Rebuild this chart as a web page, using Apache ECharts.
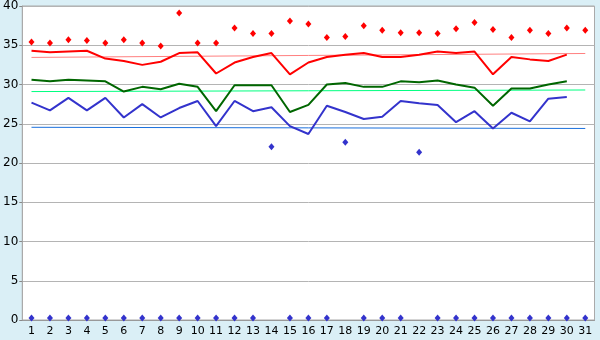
<!DOCTYPE html>
<html>
<head>
<meta charset="utf-8">
<script src="https://cdn.jsdelivr.net/npm/echarts@6/dist/echarts.min.js"></script>
<style>
  html, body { margin: 0; padding: 0; background: #daeff6; }
  #chart { width: 600px; height: 340px; }
</style>
</head>
<body>
<div id="chart"></div>
<script>
// 日期（x轴类目）
const days = ['1','2','3','4','5','6','7','8','9','10','11','12','13','14','15','16','17','18','19','20','21','22','23','24','25','26','27','28','29','30','31'];

// 最高值散点（红色菱形）
const maxPoints = [35.4, 35.3, 35.7, 35.6, 35.3, 35.7, 35.3, 34.9, 39.1, 35.3, 35.3, 37.2, 36.5, 36.5, 38.1, 37.7, 36.0, 36.1, 37.5, 36.9, 36.6, 36.6, 36.5, 37.1, 37.9, 37.0, 36.0, 36.9, 36.5, 37.2, 36.9];
// 红色粗线
const highLine = [34.3, 34.1, 34.2, 34.3, 33.3, 33.0, 32.5, 32.9, 34.0, 34.1, 31.4, 32.8, 33.5, 34.0, 31.3, 32.8, 33.5, 33.8, 34.0, 33.5, 33.5, 33.8, 34.2, 34.0, 34.2, 31.3, 33.5, 33.2, 33.0, 33.8, null];
// 粉色细线（只有首尾两个值）
const highNormal = [33.45, null, null, null, null, null, null, null, null, null, null, null, null, null, null, null, null, null, null, null, null, null, null, null, null, null, null, null, null, null, 33.95];
// 深绿色粗线
const meanLine = [30.6, 30.4, 30.6, 30.5, 30.4, 29.1, 29.7, 29.4, 30.1, 29.7, 26.6, 29.9, 29.9, 29.9, 26.5, 27.4, 30.0, 30.2, 29.7, 29.7, 30.4, 30.3, 30.5, 30.0, 29.6, 27.3, 29.5, 29.5, 30.0, 30.4, null];
// 亮绿色细线
const meanNormal = [29.1, null, null, null, null, null, null, null, null, null, null, null, null, null, null, null, null, null, null, null, null, null, null, null, null, null, null, null, null, null, 29.3];
// 蓝色粗线
const lowLine = [27.7, 26.7, 28.3, 26.7, 28.3, 25.8, 27.5, 25.8, 27.0, 27.9, 24.7, 27.9, 26.6, 27.1, 24.7, 23.7, 27.3, 26.5, 25.6, 25.9, 27.9, 27.6, 27.4, 25.2, 26.6, 24.4, 26.4, 25.3, 28.2, 28.4, null];
// 蓝色细线
const lowNormal = [24.55, null, null, null, null, null, null, null, null, null, null, null, null, null, null, null, null, null, null, null, null, null, null, null, null, null, null, null, null, null, 24.4];
// 最低值散点（蓝色菱形）
const minPoints = [0, 0, 0, 0, 0, 0, 0, 0, 0, 0, 0, 0, 0, 21.8, 0, 0, 0, 22.4, 0, 0, 0, 21.1, 0, 0, 0, 0, 0, 0, 0, 0, 0];

const yTicks = { min: 0, max: 40, interval: 5 };

function thinLine(data, color) {
    return {
        type: 'line',
        data: data,
        connectNulls: true,
        showSymbol: false,
        silent: true,
        lineStyle: { color: color, width: 1 },
        z: 2
    };
}

function thickLine(data, color) {
    return {
        type: 'line',
        data: data,
        showSymbol: false,
        silent: true,
        lineStyle: { color: color, width: 2 },
        z: 3
    };
}

var myChart = echarts.init(document.getElementById('chart'));
var option = {
    animation: false,
    backgroundColor: '#daeff6',
    grid: {
        left: 20, right: 5.5, top: 5.5, bottom: 20,
        show: true,
        backgroundColor: '#ffffff',
        borderColor: '#aaaaaa',
        borderWidth: 1
    },
    xAxis: {
        type: 'category',
        data: days,
        boundaryGap: true,
        axisLine: { lineStyle: { color: '#999999', width: 1 } },
        axisTick: { alignWithLabel: true, length: 5, lineStyle: { color: '#000000' } },
        axisLabel: { color: '#000000', fontFamily: 'DejaVu Sans', fontSize: 11, margin: 6, interval: 0 },
        splitLine: { show: false }
    },
    yAxis: {
        type: 'value',
        min: yTicks.min,
        max: yTicks.max,
        interval: yTicks.interval,
        axisLine: { show: true, lineStyle: { color: '#aaaaaa' } },
        axisTick: { show: true, length: 3, lineStyle: { color: '#888888' } },
        axisLabel: { color: '#000000', fontFamily: 'DejaVu Sans', fontSize: 12, margin: 4 },
        splitLine: { lineStyle: { color: '#b4b4b4', width: 1 } }
    },
    series: [
        thinLine(highNormal, '#ff8080'),
        thinLine(meanNormal, '#00ff80'),
        thinLine(lowNormal, '#1a70dd'),
        thickLine(highLine, '#ff0000'),
        thickLine(meanLine, '#006600'),
        thickLine(lowLine, '#3333cc'),
        {
            type: 'scatter',
            data: maxPoints,
            symbol: 'diamond',
            symbolSize: [6, 7],
            silent: true,
            itemStyle: { color: '#ff0000', opacity: 1 },
            z: 4
        },
        {
            type: 'scatter',
            data: minPoints,
            symbol: 'diamond',
            symbolSize: [6, 7],
            symbolOffset: [0, -2],
            clip: false,
            silent: true,
            itemStyle: { color: '#3333cc', opacity: 1 },
            z: 4
        }
    ]
};
myChart.setOption(option);
</script>
</body>
</html>
